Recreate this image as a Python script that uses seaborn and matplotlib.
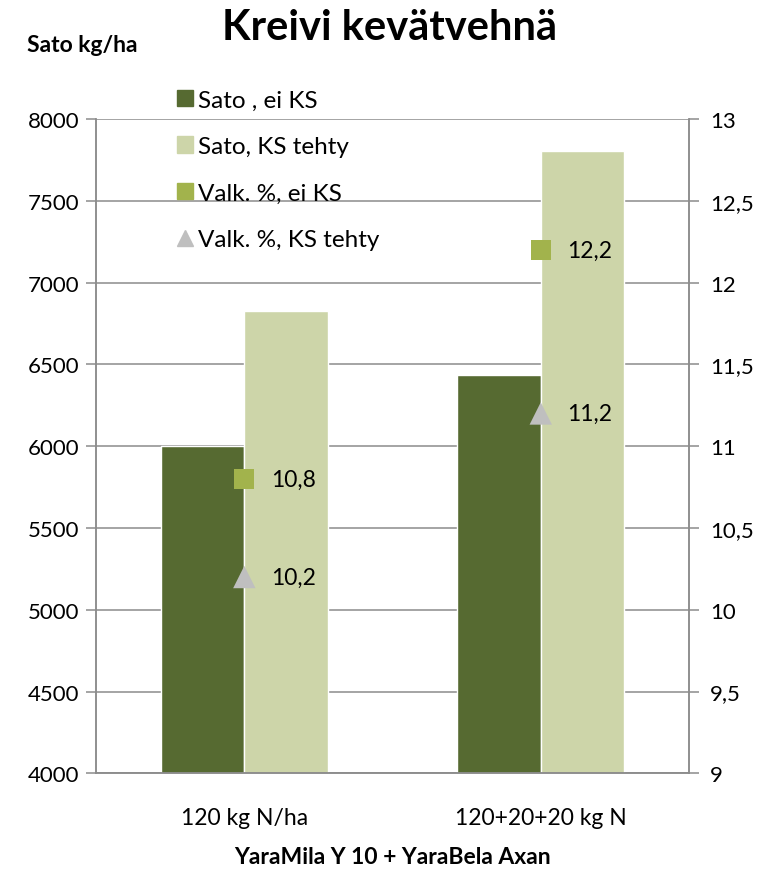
import matplotlib
matplotlib.use("Agg")
import matplotlib.pyplot as plt
from matplotlib.lines import Line2D
from matplotlib.patches import Patch
import pandas as pd
import seaborn as sns

# data
categories = ["120 kg N/ha", "120+20+20 kg N"]
sato_ei_ks = [6000, 6435]
sato_ks = [6825, 7805]
valk_ei_ks = [10.8, 12.2]
valk_ks = [10.2, 11.2]
series_names = ["Sato , ei KS", "Sato, KS tehty", "Valk. %, ei KS", "Valk. %, KS tehty"]

dark = "#566A31"
light = "#CDD5A9"
sq_col = "#A2B34C"
tri_col = "#BFBFBF"
grid_col = "#8C8C8C"

sns.set_style("white")
plt.rcParams["font.family"] = ["Lato", "DejaVu Sans"]
plt.rcParams["text.color"] = "black"
plt.rcParams["xtick.color"] = "black"
plt.rcParams["ytick.color"] = "black"
plt.rcParams["axes.labelcolor"] = "black"

df = pd.DataFrame({
    "cat": categories * 2,
    "sato": sato_ei_ks + sato_ks,
    "series": [series_names[0]] * 2 + [series_names[1]] * 2,
})

fig = plt.figure(figsize=(7.75, 8.7), dpi=100)
ax = fig.add_axes([0.124, 0.110, 0.765, 0.752])

sns.barplot(data=df, x="cat", y="sato", hue="series", palette=[dark, light],
            width=0.565, saturation=1, ax=ax, legend=False)
ax.set_ylim(4000, 8000)
ax.set_yticks(range(4000, 8001, 500))
ax.yaxis.grid(True, color=grid_col, lw=1.1)
ax.set_axisbelow(True)
ax.set_xlim(-0.5, 1.5)
ax.set_xticks([0, 1])
ax.set_xticklabels(categories)
ax.set_xticks([0.5], minor=True)
ax.tick_params(axis="x", which="major", length=0, labelsize=16.5, pad=24)
ax.tick_params(axis="x", which="minor", length=7, color=grid_col, width=1.1)
ax.tick_params(axis="y", length=7, color=grid_col, labelcolor="black", width=1.1,
               labelsize=16, pad=5, left=True, direction="out")
ax.set_xlabel("YaraMila Y 10 + YaraBela Axan", fontsize=16.5, fontweight="bold", labelpad=13)
ax.set_ylabel("")
for s in ["left", "bottom", "right"]:
    ax.spines[s].set_color(grid_col)
    ax.spines[s].set_linewidth(1.1)
ax.spines["top"].set_visible(False)

ax2 = ax.twinx()
ax2.set_ylim(9, 13)
ax2.set_yticks([9, 9.5, 10, 10.5, 11, 11.5, 12, 12.5, 13])
ax2.set_yticklabels([f"{v:g}".replace(".", ",") for v in ax2.get_yticks()])
ax2.tick_params(axis="y", length=7, color=grid_col, labelcolor="black", width=1.1,
                labelsize=16, pad=8, right=True, direction="out")
for s in ["left", "bottom", "right"]:
    ax2.spines[s].set_color(grid_col)
    ax2.spines[s].set_linewidth(1.1)
ax2.spines["top"].set_visible(False)

sns.scatterplot(x=[0, 1], y=valk_ei_ks, marker="s", s=200, color=sq_col,
                edgecolor="none", ax=ax2, zorder=5)
sns.scatterplot(x=[0, 1], y=valk_ks, marker="^", s=260, color=tri_col,
                edgecolor="none", ax=ax2, zorder=5)
for i, v in enumerate(valk_ei_ks):
    ax2.annotate(f"{v:.1f}".replace(".", ","), (i, v), xytext=(19, 0),
                 textcoords="offset points", va="center", fontsize=16.5)
for i, v in enumerate(valk_ks):
    ax2.annotate(f"{v:.1f}".replace(".", ","), (i, v), xytext=(19, 0),
                 textcoords="offset points", va="center", fontsize=16.5)
ax2.set_xlim(-0.5, 1.5)

handles = [
    Patch(color=dark), Patch(color=light),
    Line2D([], [], ls="", marker="s", ms=11, color=sq_col),
    Line2D([], [], ls="", marker="^", ms=12, color=tri_col),
]
leg = ax2.legend(handles, series_names, loc="upper left", bbox_to_anchor=(0.12, 1.06),
                 frameon=False, fontsize=17.5, labelspacing=1.05, handlelength=0.65,
                 handleheight=0.65, handletextpad=0.2, borderaxespad=0)

fig.text(0.502, 0.968, "Kreivi kevätvehnä", ha="center", va="center",
         fontsize=30, fontweight="bold")
fig.text(0.035, 0.948, "Sato kg/ha", ha="left", va="center",
         fontsize=16.5, fontweight="bold")

fig.savefig("out.png", dpi=100)
